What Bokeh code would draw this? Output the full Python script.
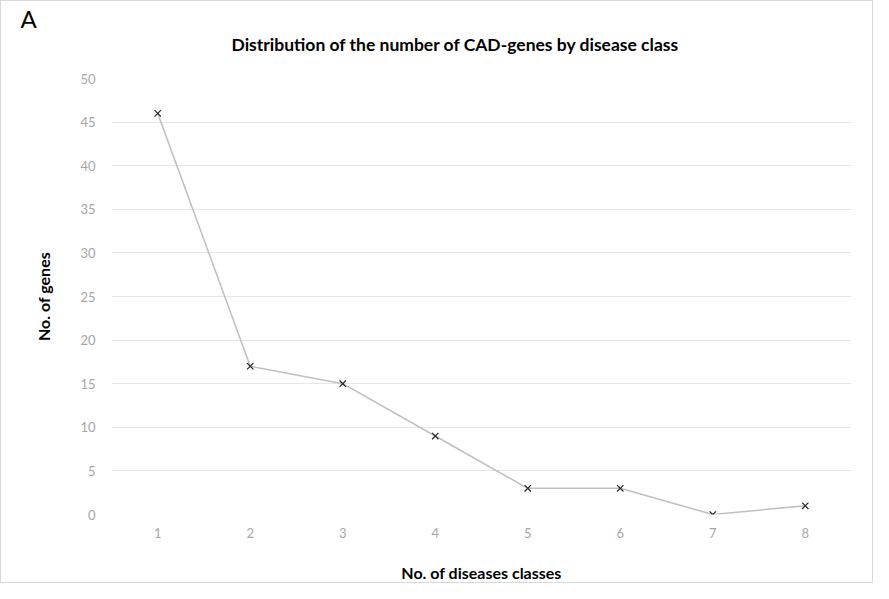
from bokeh.plotting import figure
from bokeh.models import Range1d, FixedTicker, Title
from bokeh.embed import file_html
from bokeh.resources import INLINE

classes = [1, 2, 3, 4, 5, 6, 7, 8]
genes = [46, 17, 15, 9, 3, 3, 0, 1]
y_ticks = [0, 5, 10, 15, 20, 25, 30, 35, 40, 45, 50]

FONT = "Lato"
W, H = 873, 583

p = figure(width=W, height=H, output_backend="svg", toolbar_location=None,
           x_range=Range1d(0.5, 8.5), y_range=Range1d(0, 50),
           min_border_left=110, min_border_right=23,
           min_border_top=77, min_border_bottom=69)
p.styles = {"border": "1px solid #d9d9d9"}
p.outline_line_color = None
p.background_fill_color = "white"
p.border_fill_color = "white"

# outer panel: panel letter
p.title = Title(text="A", align="left", offset=-91, standoff=-50,
                text_font=FONT, text_font_style="normal", text_font_size="24px",
                text_color="#000000")

# inner panel: chart title
main_title = Title(text="Distribution of the number of CAD-genes by disease class",
                   align="left", offset=120, standoff=48,
                   text_font=FONT, text_font_style="bold", text_font_size="17.5px",
                   text_color="#000000")
p.add_layout(main_title, "above")

p.line(classes, genes, line_color="#bfbfbf", line_width=1.5)
p.scatter(classes, genes, marker="x", size=9, line_color="#262626", line_width=1.2)

p.xgrid.grid_line_color = None
p.ygrid.grid_line_color = "#e6e6e6"
p.ygrid.ticker = FixedTicker(ticks=y_ticks)

p.yaxis.ticker = FixedTicker(ticks=y_ticks)
p.xaxis.ticker = FixedTicker(ticks=classes)
for ax in (p.xaxis[0], p.yaxis[0]):
    ax.axis_line_color = None
    ax.major_tick_line_color = None
    ax.minor_tick_line_color = None
    ax.major_label_text_color = "#a6a6a6"
    ax.major_label_text_font = FONT
    ax.major_label_text_font_size = "13px"
    ax.axis_label_text_font = FONT
    ax.axis_label_text_font_style = "bold"
    ax.axis_label_text_font_size = "16px"
    ax.axis_label_text_color = "#000000"

p.xaxis.axis_label = "No. of diseases classes"
p.yaxis.axis_label = "No. of genes"
p.xaxis.major_label_standoff = 7
p.yaxis.major_label_standoff = 10
p.xaxis.axis_label_standoff = 22
p.yaxis.axis_label_standoff = 24

open("out.html", "w").write(file_html(p, INLINE))
